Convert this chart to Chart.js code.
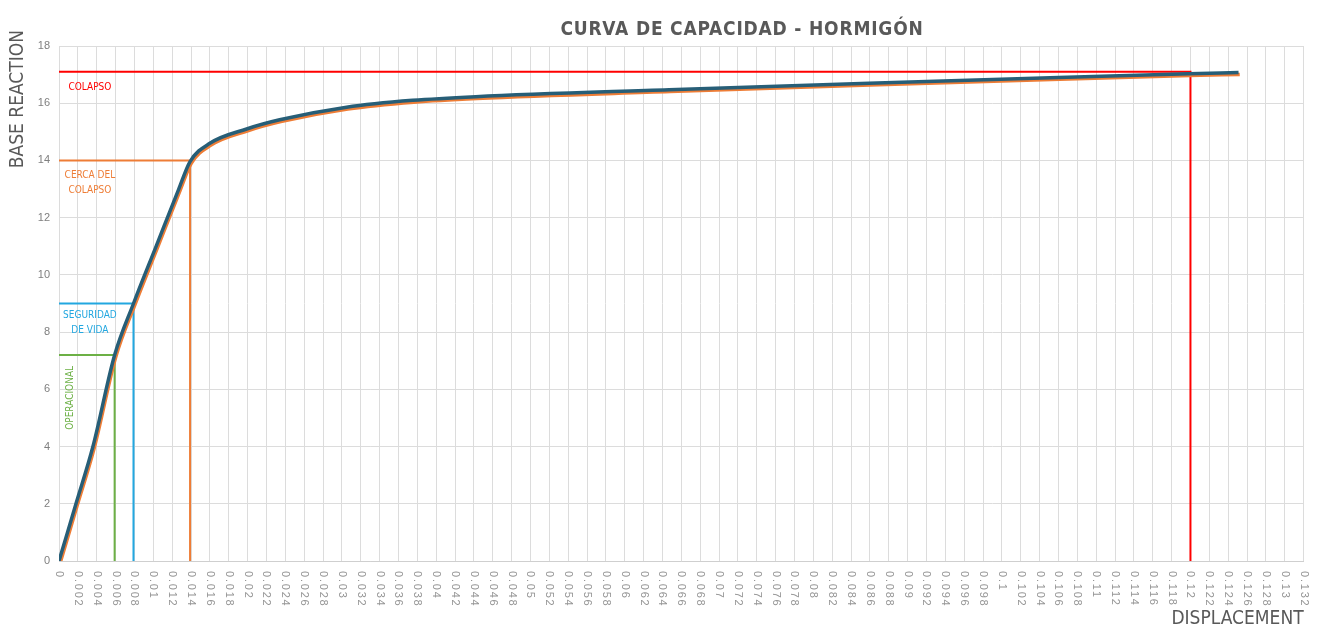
<!DOCTYPE html>
<html>
<head>
<meta charset="utf-8">
<script src="https://cdn.jsdelivr.net/npm/chart.js@4.4.0/dist/chart.umd.min.js"></script>
<style>
  html, body { margin: 0; padding: 0; background: #fff; }
  #wrap { width: 1321px; height: 628px; position: relative; }
</style>
</head>
<body>
<div id="wrap"><canvas id="capChart"></canvas></div>
<script>
// capacity curve
var displacement = [0, 0.0018, 0.0036, 0.0059, 0.0079, 0.0103, 0.0127, 0.0139, 0.016, 0.0199, 0.0234, 0.0305, 0.0375, 0.0442, 0.0647, 0.0859, 0.106, 0.1198, 0.1251];
var baseReaction = [0, 2.0, 4.0, 7.2, 9.0, 11.0, 13.0, 13.96, 14.6, 15.1, 15.42, 15.86, 16.1, 16.23, 16.47, 16.7, 16.9, 17.03, 17.07];

// performance levels
var levelNames = ['OPERACIONAL', 'SEGURIDAD DE VIDA', 'CERCA DEL COLAPSO', 'COLAPSO'];
var levelDisp = [0.0059, 0.0079, 0.0139, 0.12];
var levelForce = [7.2, 9.0, 14.0, 17.1];

// axes
var xMax = 0.132, xStep = 0.002;
var yMax = 18, yStep = 2;

var levelColors = ['#6CB045', '#22A7E0', '#EE7D36', '#FF0000'];

// labels next to the levels
var notes = [
  { lines: ['COLAPSO'], x: 0.00328, y: 16.54, color: levelColors[3] },
  { lines: ['CERCA DEL', 'COLAPSO'], x: 0.00328, y: 13.22, color: levelColors[2] },
  { lines: ['SEGURIDAD', 'DE VIDA'], x: 0.00328, y: 8.31, color: levelColors[1] },
  { lines: ['OPERACIONAL'], x: 0.00117, y: 5.7, color: levelColors[0], rotate: true }
];

var curve = displacement.map(function (d, i) { return { x: d, y: baseReaction[i] }; });

var datasets = [{
  label: 'Curva',
  data: curve,
  borderColor: '#275E77',
  borderWidth: 3.5,
  pointRadius: 0,
  cubicInterpolationMode: 'monotone',
  fill: false
}];
for (var i = levelNames.length - 1; i >= 0; i--) {
  datasets.push({
    label: levelNames[i],
    data: [{ x: 0, y: levelForce[i] }, { x: levelDisp[i], y: levelForce[i] }, { x: levelDisp[i], y: 0 }],
    borderColor: levelColors[i],
    borderWidth: 2,
    pointRadius: 0,
    tension: 0,
    fill: false
  });
}

function fmt(v) { return String(parseFloat(v.toFixed(3))); }

var narrow = '"Liberation Sans Narrow", "DejaVu Sans Condensed", sans-serif';

var extras = {
  id: 'extras',
  beforeDatasetDraw: function (chart, args) {
    if (args.index === 0) {
      var c = chart.ctx;
      c.save();
      c.shadowColor = '#EE7D36';
      c.shadowOffsetX = 1.2;
      c.shadowOffsetY = 1.8;
      c.shadowBlur = 0;
    }
  },
  afterDatasetDraw: function (chart, args) {
    if (args.index === 0) chart.ctx.restore();
  },
  afterDraw: function (chart) {
    var c = chart.ctx, xs = chart.scales.x, ys = chart.scales.y;
    // x tick labels, reading top to bottom
    c.save();
    c.fillStyle = '#959595';
    c.font = '11px "Liberation Sans", sans-serif';
    c.letterSpacing = '1.8px';
    c.textAlign = 'left';
    c.textBaseline = 'middle';
    xs.ticks.forEach(function (t) {
      var px = xs.getPixelForValue(t.value);
      c.save();
      c.translate(px, xs.top + 10);
      c.rotate(Math.PI / 2);
      c.fillText(fmt(t.value), 0, 0);
      c.restore();
    });
    c.restore();

    // level notes
    notes.forEach(function (n) {
      var px = xs.getPixelForValue(n.x), py = ys.getPixelForValue(n.y);
      c.save();
      c.fillStyle = n.color;
      c.font = '10px ' + narrow;
      c.textAlign = 'center';
      c.textBaseline = 'middle';
      c.translate(px, py);
      if (n.rotate) c.rotate(-Math.PI / 2);
      n.lines.forEach(function (l, k) {
        c.fillText(l, 0, (k - (n.lines.length - 1) / 2) * 15);
      });
      c.restore();
    });

    // titles
    c.save();
    c.fillStyle = '#595959';
    c.font = 'bold 19px ' + narrow;
    c.letterSpacing = '0.8px';
    c.textAlign = 'center';
    c.textBaseline = 'middle';
    c.fillText('CURVA DE CAPACIDAD - HORMIGÓN', 742, 30);
    c.letterSpacing = '0px';
    c.font = '19px ' + narrow;
    c.textAlign = 'right';
    c.fillText('DISPLACEMENT', xs.right, 619);
    c.translate(18, 30);
    c.rotate(-Math.PI / 2);
    c.fillText('BASE REACTION', 0, 0);
    c.restore();
  }
};

new Chart(document.getElementById('capChart').getContext('2d'), {
  type: 'line',
  data: { datasets: datasets },
  plugins: [extras],
  options: {
    responsive: true,
    maintainAspectRatio: false,
    animation: false,
    layout: { padding: { top: 46, right: 16, left: 0, bottom: 0 } },
    plugins: {
      legend: { display: false },
      tooltip: { enabled: false },
      title: { display: false }
    },
    scales: {
      x: {
        type: 'linear',
        min: 0,
        max: xMax,
        afterFit: function (s) { s.height = 67; },
        afterBuildTicks: function (s) {
          var t = [];
          for (var k = 0; k * xStep <= xMax + 1e-9; k++) t.push({ value: +(k * xStep).toFixed(3) });
          s.ticks = t;
        },
        ticks: {
          autoSkip: false,
          minRotation: 90,
          maxRotation: 90,
          color: 'rgba(0,0,0,0)',
          callback: function (v) { return fmt(v); }
        },
        grid: { color: '#dcdcdc', lineWidth: 1, drawTicks: false },
        border: { color: '#cfcfcf' }
      },
      y: {
        min: 0,
        max: yMax,
        afterFit: function (s) { s.width = 59; },
        ticks: {
          stepSize: yStep,
          color: '#7f7f7f',
          padding: 9,
          font: { family: '"Liberation Sans", sans-serif', size: 11 }
        },
        grid: { color: '#dcdcdc', lineWidth: 1, drawTicks: false },
        border: { display: false }
      }
    }
  }
});
</script>
</body>
</html>
